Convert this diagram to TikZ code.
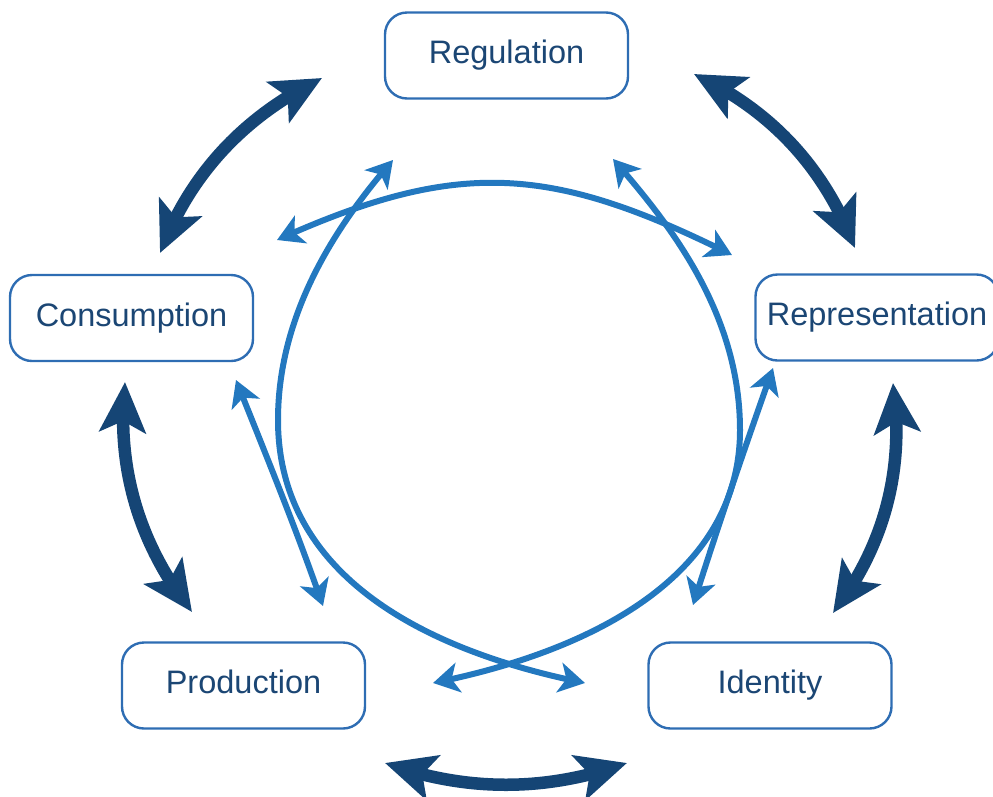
\documentclass[tikz,border=0pt]{standalone}
\usepackage{fontspec}
\setmainfont{Liberation Sans}
\usetikzlibrary{arrows.meta,bending}
\definecolor{navyarrow}{HTML}{154575}
\definecolor{skyarrow}{HTML}{2378BF}
\definecolor{boxline}{HTML}{2E6DB3}
\definecolor{boxtext}{HTML}{1B4674}
\begin{document}
\begin{tikzpicture}[x=1pt,y=-1pt,
  stage/.style={draw=boxline, line width=2.4pt, rounded corners=22pt,
    minimum width=243pt, minimum height=86pt, inner sep=0pt,
    text=boxtext, font=\fontsize{32.5pt}{39pt}\selectfont,
    text height=24pt, text depth=8pt},
  outerlink/.style={draw=navyarrow, line width=12.5pt, {Stealth[length=50pt,width=46pt,inset=11pt]}-{Stealth[length=50pt,width=46pt,inset=11pt]}},
  innerlink/.style={draw=skyarrow, line width=6pt, {Stealth[length=26pt,width=30pt,inset=7pt]}-{Stealth[length=26pt,width=30pt,inset=7pt]}}]

\useasboundingbox (0,0) rectangle (993,796);

% the five stages of the circuit
\node[stage] (reg) at (506.5,55.5) {Regulation};
\node[stage] (rep) at (877,317.5) {Representation};
\node[stage] (ide) at (770,685.5) {Identity};
\node[stage] (pro) at (243.5,685.5) {Production};
\node[stage] (con) at (131.5,318) {Consumption};

% end points of the outer links
\coordinate (oRegCon) at (322,78);
\coordinate (oConReg) at (160,253);
\coordinate (oRegRep) at (694,74);
\coordinate (oRepReg) at (855,248);
\coordinate (oConPro) at (125,382);
\coordinate (oProCon) at (192,612);
\coordinate (oRepIde) at (893,383);
\coordinate (oIdeRep) at (833,613);
\coordinate (oProIde) at (385,763);
\coordinate (oIdePro) at (627,763);

% outer links between neighbouring stages
\draw[outerlink] (oConReg) .. controls (190,174) and (244,116) .. (oRegCon);
\draw[outerlink] (oRegRep) .. controls (771,110) and (825,168) .. (oRepReg);
\draw[outerlink] (oConPro) .. controls (116,468) and (139,544) .. (oProCon);
\draw[outerlink] (oRepIde) .. controls (905,468) and (885,545) .. (oIdeRep);
\draw[outerlink] (oProIde) .. controls (466,792) and (546,792) .. (oIdePro);

% end points of the inner links
\coordinate (iConTop) at (277,240);
\coordinate (iRepTop) at (732,255);
\coordinate (iRegLeft) at (393,160);
\coordinate (iLeftLow) at (278,420);
\coordinate (iIdeEnd) at (585,683);
\coordinate (iRegRight) at (613,159);
\coordinate (iRightLow) at (740,430);
\coordinate (iProEnd) at (433,683);
\coordinate (iConSide) at (236,380);
\coordinate (iProSide) at (323,606);
\coordinate (iRepSide) at (773,368);
\coordinate (iIdeSide) at (693,605);

% inner links across the circuit
\draw[innerlink] (iConTop) .. controls (458,158.5) and (551,164.5) .. (iRepTop);
\draw[innerlink] (iRegLeft) .. controls (340,221) and (278,310) .. (iLeftLow)
  .. controls (278,570) and (415,649) .. (iIdeEnd);
\draw[innerlink] (iRegRight) .. controls (666,220) and (740,310) .. (iRightLow)
  .. controls (740,570) and (603,649) .. (iProEnd);
\draw[innerlink] (iConSide) .. controls (266,455) and (297,531) .. (iProSide);
\draw[innerlink] (iRepSide) .. controls (745,447) and (718,526) .. (iIdeSide);
\end{tikzpicture}
\end{document}
